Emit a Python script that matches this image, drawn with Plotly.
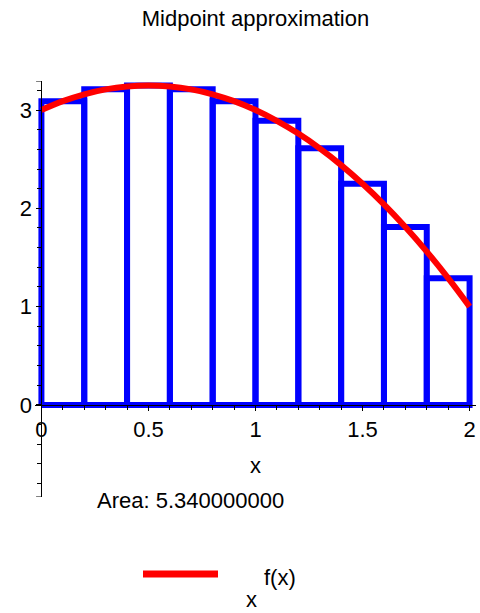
import plotly.graph_objects as go

# ---- data ----
curve_x = [0.0, 0.1, 0.2, 0.3, 0.4, 0.5, 0.6, 0.7, 0.8, 0.9, 1.0,
           1.1, 1.2, 1.3, 1.4, 1.5, 1.6, 1.7, 1.8, 1.9, 2.0]
curve_y = [3.00, 3.09, 3.16, 3.21, 3.24, 3.25, 3.24, 3.21, 3.16, 3.09, 3.00,
           2.89, 2.76, 2.61, 2.44, 2.25, 2.04, 1.81, 1.56, 1.29, 1.00]
rect_left = [0.0, 0.2, 0.4, 0.6, 0.8, 1.0, 1.2, 1.4, 1.6, 1.8]
rect_right = [0.2, 0.4, 0.6, 0.8, 1.0, 1.2, 1.4, 1.6, 1.8, 2.0]
rect_height = [3.09, 3.21, 3.25, 3.21, 3.09, 2.89, 2.61, 2.25, 1.81, 1.29]
x_tick_vals = [0, 0.5, 1, 1.5, 2]
x_tick_text = ["0", "0.5", "1", "1.5", "2"]
y_tick_vals = [0, 1, 2, 3]
y_tick_text = ["0", "1", "2", "3"]
title_text = "Midpoint approximation"
area_text = "Area: 5.340000000"
legend_label = "f(x)"
legend_title = "x"
x_label = "x"

XR = [-0.03, 2.03]
YR = [-0.936, 3.295]
FONT = "Liberation Sans, Arial, sans-serif"
FS = 22

# build rectangle outlines
rx, ry = [], []
for a, b, h in zip(rect_left, rect_right, rect_height):
    rx += [a, a, b, b, a, None]
    ry += [0, h, h, 0, 0, None]

fig = go.Figure()
fig.add_trace(go.Scatter(x=rx, y=ry, mode="lines",
                         line=dict(color="#0000ff", width=6),
                         hoverinfo="skip", showlegend=False))
fig.add_trace(go.Scatter(x=curve_x, y=curve_y, mode="lines",
                         line=dict(color="#ff0000", width=6, shape="spline"),
                         showlegend=False))

xpos0 = (0 - XR[0]) / (XR[1] - XR[0])
ypos0 = (0 - YR[0]) / (YR[1] - YR[0])

fig.update_layout(
    width=480, height=613,
    margin=dict(l=35, r=4, t=81, b=116),
    paper_bgcolor="white", plot_bgcolor="white",
    font=dict(family=FONT, size=FS, color="black"),
    title=dict(text=title_text, x=0.5, xref="paper", xanchor="center",
               y=1 - 18 / 613, yref="container", yanchor="middle",
               font=dict(family=FONT, size=FS, color="black")),
    xaxis=dict(range=XR, showgrid=False, zeroline=False,
               anchor="free", position=ypos0,
               showline=True, linecolor="black", linewidth=1,
               tickvals=x_tick_vals, ticktext=x_tick_text,
               ticks="outside", ticklen=5, tickcolor="black",
               minor=dict(dtick=0.1, tick0=0, ticks="outside", ticklen=4,
                          tickcolor="black", showgrid=False),
               tickfont=dict(family=FONT, size=FS)),
    yaxis=dict(range=YR, showgrid=False, zeroline=False,
               anchor="free", position=xpos0,
               showline=True, linecolor="black", linewidth=1,
               tickvals=y_tick_vals, ticktext=y_tick_text,
               ticks="outside", ticklen=5, tickcolor="black",
               minor=dict(dtick=0.2, tick0=0, ticks="outside", ticklen=4,
                          tickcolor="black", showgrid=False),
               tickfont=dict(family=FONT, size=FS)),
)

# axis end brackets
for yv in YR:
    fig.add_shape(type="line", xref="x", yref="y", x0=-0.025, x1=0,
                  y0=yv, y1=yv, line=dict(color="black", width=1))

def px_to_paper_x(px):
    return (px - 35) / 441.0

def px_to_paper_y(py):
    return (497 - py) / 416.0

fig.add_annotation(text=x_label, x=px_to_paper_x(256), y=px_to_paper_y(465),
                   xref="paper", yref="paper", showarrow=False,
                   xanchor="center", yanchor="middle", font=dict(size=FS))
fig.add_annotation(text=area_text, x=px_to_paper_x(190), y=px_to_paper_y(500),
                   xref="paper", yref="paper", showarrow=False,
                   xanchor="center", yanchor="middle", font=dict(size=FS))
# legend
fig.add_shape(type="line", xref="paper", yref="paper",
              x0=px_to_paper_x(143), x1=px_to_paper_x(218),
              y0=px_to_paper_y(574), y1=px_to_paper_y(574),
              line=dict(color="#ff0000", width=7))
fig.add_annotation(text=legend_label, x=px_to_paper_x(262), y=px_to_paper_y(577),
                   xref="paper", yref="paper", showarrow=False,
                   xanchor="left", yanchor="middle", font=dict(size=FS))
fig.add_annotation(text=legend_title, x=px_to_paper_x(251), y=px_to_paper_y(613),
                   xref="paper", yref="paper", showarrow=False,
                   xanchor="center", yanchor="bottom", font=dict(size=FS),
                   borderpad=0)

fig.write_html("out.html",
               config={"displayModeBar": False},
               post_script="document.body.style.margin='0px';document.body.style.padding='0px';")
